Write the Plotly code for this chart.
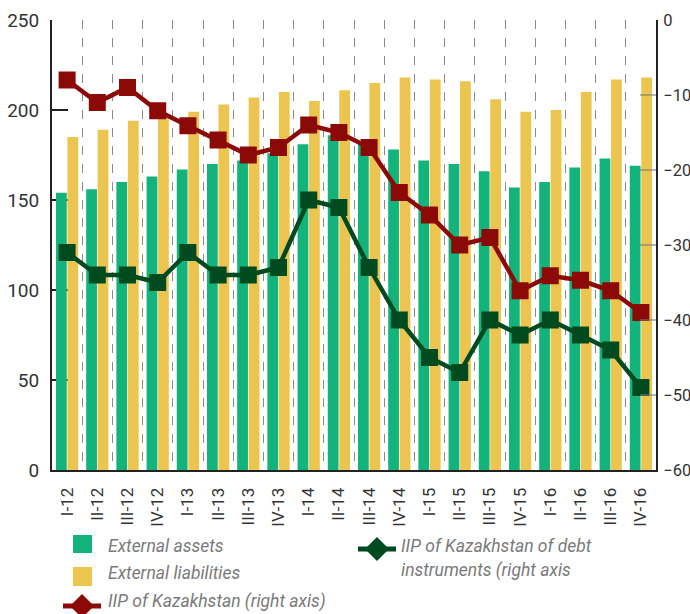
import plotly.graph_objects as go

categories = ["I-12", "II-12", "III-12", "IV-12", "I-13", "II-13", "III-13", "IV-13",
              "I-14", "II-14", "III-14", "IV-14", "I-15", "II-15", "III-15", "IV-15",
              "I-16", "II-16", "III-16", "IV-16"]
external_assets = [154, 156, 160, 163, 167, 170, 172, 176, 181, 186,
                   182, 178, 172, 170, 166, 157, 160, 168, 173, 169]
external_liabilities = [185, 189, 194, 197, 199, 203, 207, 210, 205, 211,
                        215, 218, 217, 216, 206, 199, 200, 210, 217, 218]
iip_total = [-8.0, -11.0, -9.0, -12.1, -14.1, -16.0, -18.0, -17.0, -14.0, -15.0,
             -17.0, -23.0, -26.0, -30.0, -29.0, -36.1, -34.1, -34.7, -36.1, -39.0]
iip_debt = [-31.0, -34.0, -34.0, -35.0, -31.0, -34.0, -34.0, -33.0, -24.0, -25.0,
            -33.0, -40.0, -45.0, -47.0, -40.0, -42.0, -40.0, -42.0, -44.0, -49.0]

C_ASSETS = "#13B47B"
C_LIAB = "#ECC550"
C_IIP = "#8B0A08"
C_DEBT = "#004A1F"
FONT = "Roboto, Liberation Sans, sans-serif"

W, H = 690, 614
L, T = 52, 20
PW, PH = 604, 450
R, B = W - L - PW, H - T - PH


def px(x):  # screen pixel -> paper
    return (x - L) / PW


def py(y):
    return (T + PH - y) / PH


fig = go.Figure()
fig.add_trace(go.Bar(x=categories, y=external_assets, name="External assets",
                     marker=dict(color=C_ASSETS, line=dict(width=0)), yaxis="y"))
fig.add_trace(go.Bar(x=categories, y=external_liabilities, name="External liabilities",
                     marker=dict(color=C_LIAB, line=dict(width=0)), yaxis="y"))
fig.add_trace(go.Scatter(x=categories, y=iip_total, name="IIP of Kazakhstan (right axis)",
                         mode="lines+markers", yaxis="y2",
                         line=dict(color=C_IIP, width=4.5),
                         marker=dict(symbol="square", size=17, color=C_IIP)))
fig.add_trace(go.Scatter(x=categories, y=iip_debt,
                         name="IIP of Kazakhstan of debt instruments (right axis",
                         mode="lines+markers", yaxis="y2",
                         line=dict(color=C_DEBT, width=4.5),
                         marker=dict(symbol="square", size=17, color=C_DEBT)))

fig.update_layout(
    width=W, height=H,
    margin=dict(l=L, r=R, t=T, b=B, autoexpand=False),
    paper_bgcolor="white", plot_bgcolor="white",
    barmode="group", bargap=0.24, bargroupgap=0.06,
    showlegend=False,
    font=dict(family=FONT, color="#333333", size=18),
    xaxis=dict(type="category", tickson="boundaries", showgrid=True,
               gridcolor="#8a8a8a", griddash="dash", gridwidth=1,
               showline=True, linecolor="#222222", linewidth=2,
               ticks="", tickangle=-90, ticklabelstandoff=9,
               tickfont=dict(family=FONT, size=17, color="#333333"),
               range=[-0.5, 19.5], layer="below traces"),
    yaxis=dict(range=[0, 250], dtick=50, showgrid=False, zeroline=False,
               showline=True, linecolor="#222222", linewidth=2,
               ticks="inside", ticklen=16, tickwidth=2, tickcolor="#222222",
               tickfont=dict(family=FONT, size=19, color="#333333"),
               ticklabelstandoff=7, layer="below traces"),
    yaxis2=dict(range=[-60, 0], dtick=10, overlaying="y", side="right",
                showgrid=False, zeroline=False,
                showline=True, linecolor="#222222", linewidth=2,
                ticks="inside", ticklen=16, tickwidth=1.5,
                tickcolor="rgba(120,120,120,0.55)",
                tickfont=dict(family=FONT, size=16.5, color="#333333"),
                ticklabelstandoff=2),
)

shapes = []
annotations = []
LEG_FONT = dict(family=FONT, size=17.5, color="#7a7a7a")


def square(x0, y0, x1, y1, color):
    shapes.append(dict(type="rect", xref="paper", yref="paper",
                       x0=px(x0), x1=px(x1), y0=py(y1), y1=py(y0),
                       fillcolor=color, line=dict(width=0)))


def line_diamond(xc, yc, half_len, half_d, color):
    shapes.append(dict(type="line", xref="paper", yref="paper",
                       x0=px(xc - half_len), x1=px(xc + half_len),
                       y0=py(yc), y1=py(yc), line=dict(color=color, width=5)))
    path = "M {} {} L {} {} L {} {} L {} {} Z".format(
        px(xc - half_d), py(yc), px(xc), py(yc - half_d),
        px(xc + half_d), py(yc), px(xc), py(yc + half_d))
    shapes.append(dict(type="path", xref="paper", yref="paper", path=path,
                       fillcolor=color, line=dict(width=0)))


def label(x, y, text):
    annotations.append(dict(xref="paper", yref="paper", x=px(x), y=py(y),
                            text="<i>" + text + "</i>", showarrow=False,
                            xanchor="left", yanchor="middle", xshift=-2,
                            font=LEG_FONT))


square(73, 535, 92, 553, C_ASSETS)
label(108, 546, "External assets")
square(73, 567, 92, 586, C_LIAB)
label(108, 573, "External liabilities")
line_diamond(82, 606, 19, 12, C_IIP)
label(108, 601, "IIP of Kazakhstan (right axis)")
line_diamond(377, 549, 19, 12, C_DEBT)
label(401, 546, "IIP of Kazakhstan of debt")
label(401, 570, "instruments (right axis")

fig.update_layout(shapes=shapes, annotations=annotations)
fig.write_html(
    "out.html",
    config={"displayModeBar": False},
    post_script="document.body.style.margin='0';document.body.style.overflow='hidden';",
)
